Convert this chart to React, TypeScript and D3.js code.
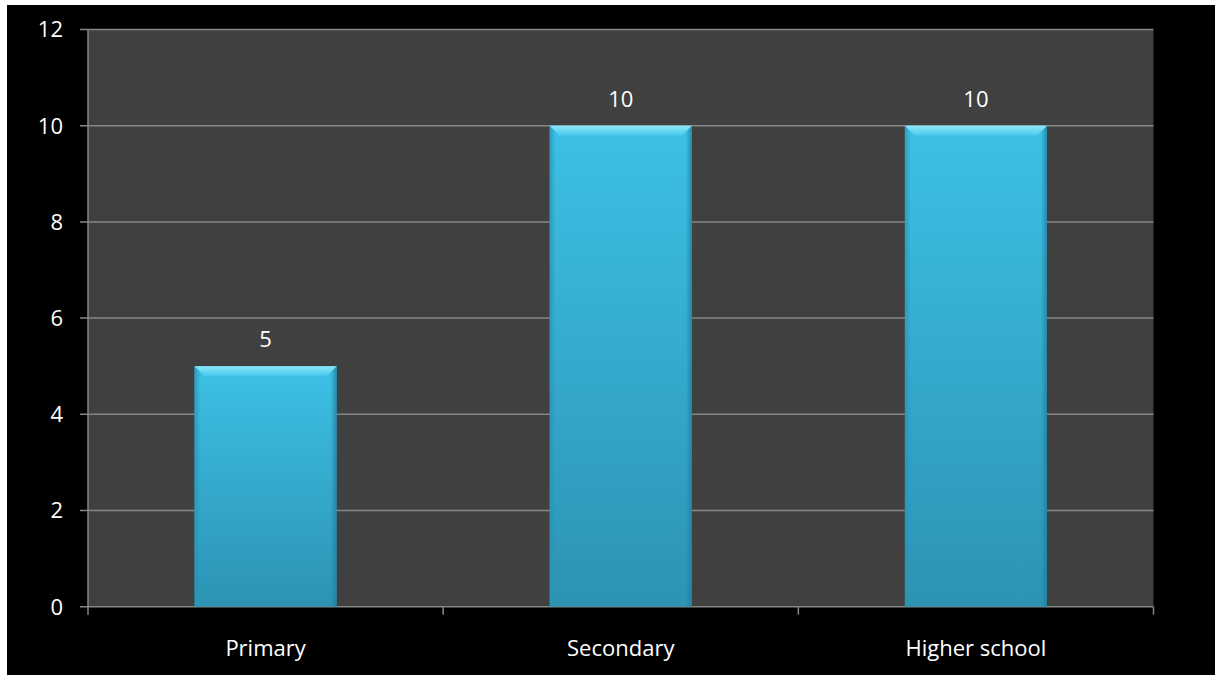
import React from "react";
import * as d3 from "d3";

const categories = ["Primary", "Secondary", "Higher school"];
const values = [5, 10, 10];
const yTicks = [0, 2, 4, 6, 8, 10, 12];

export default function App() {
  const W = 1215, H = 675;
  const left = 88, right = 1153.5, top = 29.5, bottom = 606.7;
  const x = d3.scaleBand<string>().domain(categories).range([left, right]).paddingInner(0.6).paddingOuter(0.3);
  const xb = d3.scaleBand<string>().domain(categories).range([left, right]);
  const y = d3.scaleLinear().domain([0, 12]).range([bottom, top]);
  const font = "'Open Sans', 'Noto Sans', sans-serif";
  const fs = 22;
  const bw = x.bandwidth();
  return (
    <div style={{ position: "absolute", left: 0, top: 0, width: W, height: H }}>
      <svg width={W} height={H} style={{ display: "block" }}>
        <defs>
          <linearGradient id="barG" x1="0" y1="0" x2="0" y2="1">
            <stop offset="0" stopColor="#3dc0e6" />
            <stop offset="1" stopColor="#2c93b4" />
          </linearGradient>
          <linearGradient id="bevel" x1="0" y1="0" x2="0" y2="1">
            <stop offset="0" stopColor="#8ee8fb" />
            <stop offset="1" stopColor="#45c8ec" />
          </linearGradient>
          <linearGradient id="sideL" x1="0" y1="0" x2="1" y2="0">
            <stop offset="0" stopColor="#2a93b4" stopOpacity="0.8" />
            <stop offset="1" stopColor="#2a93b4" stopOpacity="0" />
          </linearGradient>
          <linearGradient id="sideR" x1="1" y1="0" x2="0" y2="0">
            <stop offset="0" stopColor="#1f7f9c" stopOpacity="0.8" />
            <stop offset="1" stopColor="#1f7f9c" stopOpacity="0" />
          </linearGradient>
        </defs>
        <rect x={0} y={0} width={W} height={H} fill="#ffffff" />
        <rect x={7} y={5} width={W - 7} height={H - 5} fill="#000000" />
        <rect x={left} y={top} width={right - left} height={bottom - top} fill="#404040" />
        {yTicks.map((t) => (
          <g key={t}>
            <line x1={left - 8} x2={right} y1={y(t)} y2={y(t)} stroke="#868686" strokeWidth={1.5} />
            <text x={63} y={y(t)} dy="0.36em" textAnchor="end" fill="#ffffff" fontSize={fs} fontFamily={font}>
              {t}
            </text>
          </g>
        ))}
        <line x1={left} x2={left} y1={top} y2={bottom + 1} stroke="#868686" strokeWidth={1.5} />
        {[...categories.map((c) => xb(c) as number), right].map((p, i) => (
          <line key={i} x1={p} x2={p} y1={bottom} y2={bottom + 8} stroke="#868686" strokeWidth={1.5} />
        ))}
        {categories.map((c, i) => {
          const bx = x(c) as number;
          const by = y(values[i]);
          const bh = bottom - by;
          const bev = 10;
          return (
            <g key={c}>
              <rect x={bx} y={by} width={bw} height={bh} fill="url(#barG)" />
              <rect x={bx} y={by} width={6} height={bh} fill="url(#sideL)" />
              <rect x={bx + bw - 6} y={by} width={6} height={bh} fill="url(#sideR)" />
              <polygon
                points={`${bx},${by} ${bx + bw},${by} ${bx + bw - bev},${by + bev} ${bx + bev},${by + bev}`}
                fill="url(#bevel)"
              />
              <text
                x={bx + bw / 2}
                y={by - 19}
                textAnchor="middle"
                fill="#ffffff"
                fontSize={fs}
                fontFamily={font}
              >
                {values[i]}
              </text>
              <text
                x={(xb(c) as number) + xb.bandwidth() / 2}
                y={656}
                textAnchor="middle"
                fill="#ffffff"
                fontSize={fs}
                fontFamily={font}
              >
                {c}
              </text>
            </g>
          );
        })}
      </svg>
    </div>
  );
}
